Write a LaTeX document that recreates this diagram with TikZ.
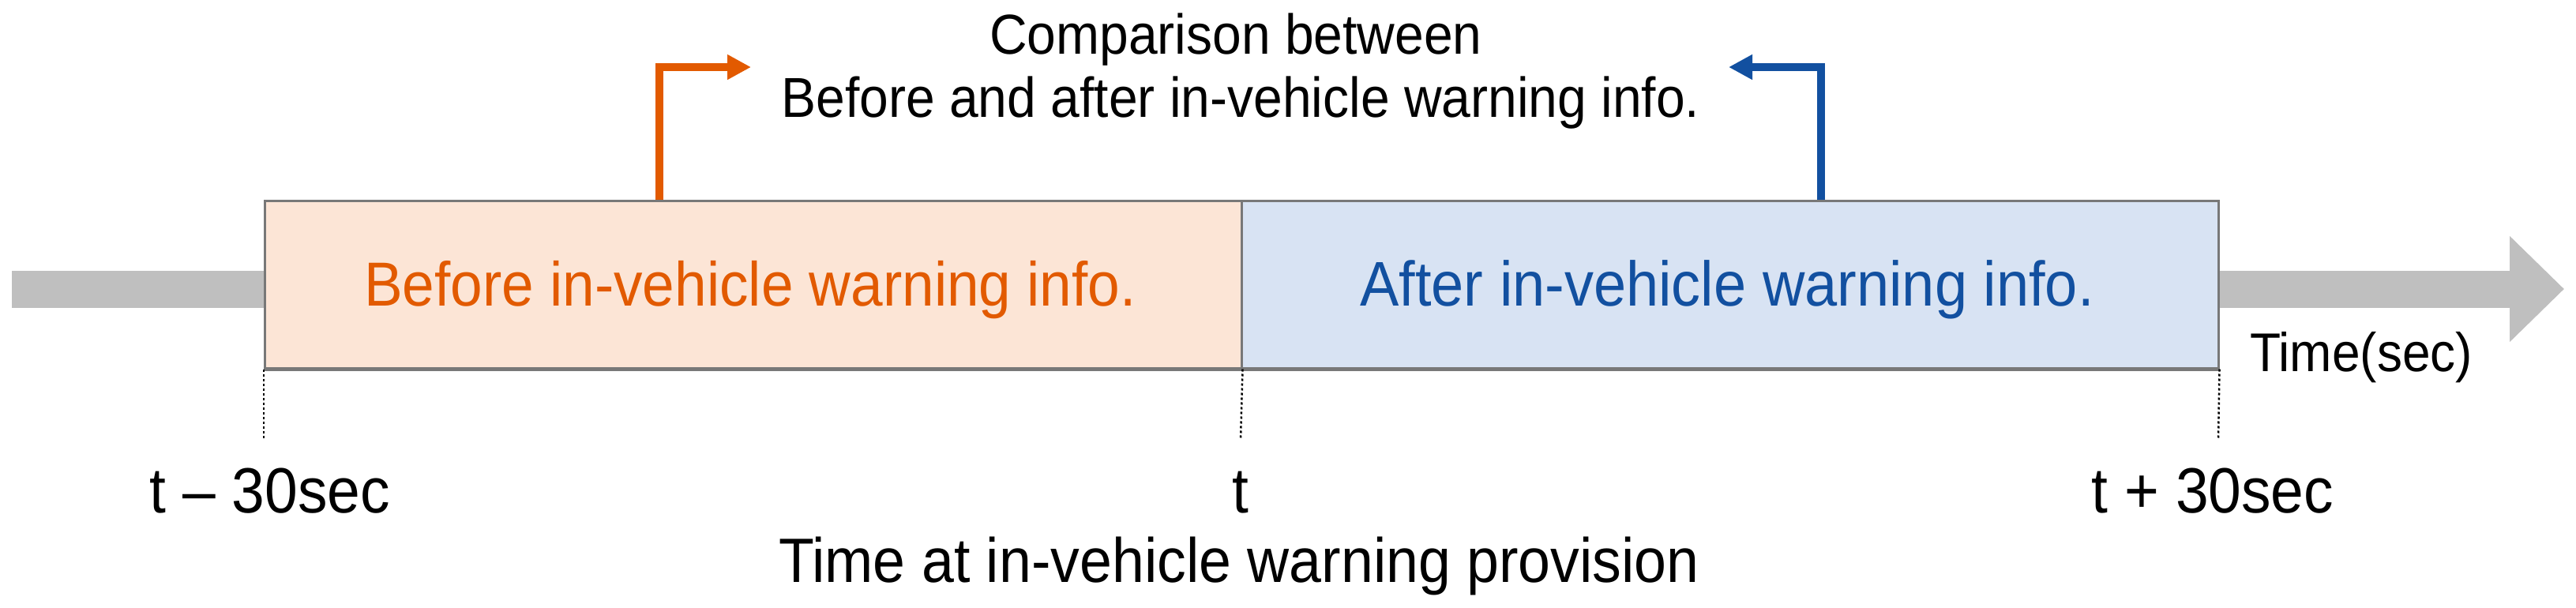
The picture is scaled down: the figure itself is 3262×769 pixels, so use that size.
\documentclass[tikz,border=0pt]{standalone}
\usepackage{fontspec}
\usepackage{graphicx}
\setmainfont{Liberation Sans}
\usetikzlibrary{arrows.meta}
\definecolor{peach}{RGB}{252,229,214}
\definecolor{paleblue}{RGB}{216,227,243}
\definecolor{orangec}{RGB}{226,90,0}
\definecolor{bluec}{RGB}{18,80,160}
\definecolor{grayarrow}{RGB}{191,191,191}
\definecolor{edgec}{RGB}{120,120,120}
\newcommand{\tall}[1]{\scalebox{1}[1.08]{#1}}
\tikzset{
  periodbox/.style={draw=edgec, line width=2.5pt, minimum width=1237pt, minimum height=212pt, inner sep=0pt, anchor=north west},
  txt/.style={inner sep=0pt, anchor=base, font=\fontsize{#1}{#1}\selectfont},
  tickline/.style={line width=2.5pt, dash pattern=on 3pt off 3pt},
  bentarrow/.style={line width=10pt, -{Triangle[length=30pt,width=30pt]}}
}
\begin{document}
\begin{tikzpicture}[x=1pt,y=-1pt]
\useasboundingbox (0,0) rectangle (3262,769);
% time axis
\coordinate (axs) at (15,366);
\coordinate (axe) at (3247,366);
\draw[grayarrow, line width=47pt, -{Triangle[length=69pt,width=130pt]}] (axs) -- (axe);
% boxes
\node[periodbox, fill=peach] (before) at (334,253) {};
\node[periodbox, fill=paleblue] (after) at (1571,253) {};
\draw[edgec, line width=4.5pt] (before.south west) -- (after.south east);
\node[txt=73, text=orangec] (beforetxt) at (950,387) {\tall{Before in-vehicle warning info.}};
\node[txt=74, text=bluec] (aftertxt) at (2187,387) {\tall{After in-vehicle warning info.}};
% dotted ticks
\coordinate (d1) at (334,557);
\coordinate (d2) at (1571,557);
\coordinate (d3) at (2809,557);
\draw[tickline] (before.south west) -- (d1);
\draw[tickline] (before.south east) -- (d2);
\draw[tickline] (after.south east) -- (d3);
% tick labels
\node[txt=75] (tm) at (342,649) {\tall{t – 30sec}};
\node[txt=75] (t0) at (1571,649) {\tall{t}};
\node[txt=75] (tp) at (2802,649) {\tall{t + 30sec}};
\node[txt=73.5] (prov) at (1569,737) {\tall{Time at in-vehicle warning provision}};
\node[txt=64] (unit) at (2990,470) {\tall{Time(sec)}};
% comparison
\node[txt=66] (cmp1) at (1565,68) {\tall{Comparison between}};
\node[txt=66] (cmp2) at (1571,148) {\tall{Before and after in-vehicle warning info.}};
% bent arrows
\coordinate (oa) at (835,253);
\coordinate (ob) at (951,85);
\coordinate (ba) at (2306,253);
\coordinate (bb) at (2189,85);
\draw[bentarrow, orangec] (oa) |- (ob);
\draw[bentarrow, bluec] (ba) |- (bb);
\end{tikzpicture}
\end{document}
